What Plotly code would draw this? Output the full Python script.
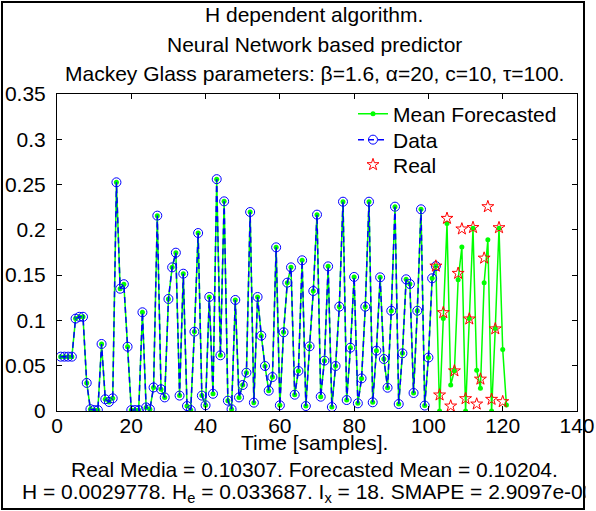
import plotly.graph_objects as go

# ---- data ----
data_t = list(range(1, 103))
data_v = [0.060, 0.060, 0.060, 0.060, 0.102, 0.104, 0.104, 0.031, 0.002, 0.001,
          0.001, 0.074, 0.013, 0.010, 0.014, 0.2525, 0.135, 0.140, 0.071, 0.001,
          0.001, 0.001, 0.109, 0.004, 0.002, 0.026, 0.2157, 0.024, 0.015, 0.1237,
          0.1586, 0.1748, 0.017, 0.1516, 0.0055, 0.001, 0.0876, 0.1965, 0.017, 0.0063,
          0.1259, 0.019, 0.256, 0.0615, 0.2315, 0.0114, 0.002, 0.1226, 0.015, 0.0287,
          0.0423, 0.2197, 0.0092, 0.1259, 0.0832, 0.0497, 0.0224, 0.0375, 0.1807, 0.0063,
          0.0869, 0.1417, 0.1586, 0.018, 0.0442, 0.1664, 0.0055, 0.0714, 0.1325, 0.2168,
          0.0158, 0.0556, 0.1597, 0.0044, 0.0497, 0.1152, 0.2311, 0.0121, 0.0699, 0.148,
          0.0085, 0.036, 0.1152, 0.2311, 0.0096, 0.0666, 0.1476, 0.0574, 0.0257, 0.1107,
          0.2256, 0.0077, 0.0637, 0.1454, 0.1402, 0.0199, 0.1107, 0.2227, 0.006, 0.059,
          0.1465, 0.160]

fc_t = list(range(103, 122))
fc_v = [0.0, 0.102, 0.207, 0.0287, 0.0445, 0.145, 0.181, 0.0, 0.102, 0.2017,
        0.045, 0.025, 0.1417, 0.189, 0.0, 0.091, 0.2017, 0.068, 0.0066]

real_t = list(range(102, 121))
real_v = [0.160, 0.0177, 0.1086, 0.2127, 0.0055, 0.0443, 0.152, 0.201, 0.0136, 0.1016,
          0.2026, 0.0077, 0.0352, 0.1688, 0.2256, 0.0129, 0.0907, 0.2024, 0.0103]

x_ticks = [0, 20, 40, 60, 80, 100, 120, 140]
y_ticks = [0, 0.05, 0.1, 0.15, 0.2, 0.25, 0.3, 0.35]
y_tick_labels = ["0", "0.05", "0.1", "0.15", "0.2", "0.25", "0.3", "0.35"]

title_lines = ["H dependent algorithm.",
               "Neural Network based predictor",
               "Mackey Glass parameters: \u03b2=1.6, \u03b1=20, c=10, \u03c4=100."]
xlabel = "Time [samples]."
info_1 = "Real Media = 0.10307. Forecasted Mean = 0.10204."
info_2 = "H = 0.0029778. H<sub>e</sub> = 0.033687. I<sub>x</sub> = 18. SMAPE = 2.9097e-005"

# ---- figure ----
W, H = 596, 511
L, R, T, B = 57, 19, 94, 100
PW, PH = W - L - R, H - T - B
FONT = "Liberation Sans, Arial, sans-serif"
FS = 21


def px_x(px):
    return (px - L) / PW


def px_y(py):
    return (H - B - py) / PH


fig = go.Figure()
fig.add_trace(go.Scatter(
    x=data_t + fc_t, y=data_v + fc_v, name="Mean Forecasted", mode="lines+markers",
    line=dict(color="#00ff00", width=1.5),
    marker=dict(symbol="circle", size=5, color="#00ff00"), legend="legend"))
fig.add_trace(go.Scatter(
    x=data_t, y=data_v, name="Data", mode="lines+markers",
    line=dict(color="#0000ff", width=1.5, dash="6px,4px"),
    marker=dict(symbol="circle-open", size=9, color="#0000ff", line=dict(width=1)),
    legend="legend2"))
fig.add_trace(go.Scatter(
    x=real_t, y=real_v, name="Real", mode="markers",
    marker=dict(symbol="star-open", size=9, color="#ff0000", line=dict(width=1)),
    legend="legend3"))

axis_common = dict(showline=True, linecolor="black", linewidth=1, mirror="ticks",
                   ticks="inside", ticklen=5, tickcolor="black", showgrid=False,
                   zeroline=False, automargin=False,
                   tickfont=dict(family=FONT, size=FS, color="black"))
fig.update_xaxes(range=[0, 140], tickvals=x_ticks, ticklabelstandoff=-4, **axis_common)
fig.update_yaxes(range=[0, 0.35], tickvals=y_ticks, ticktext=y_tick_labels,
                 ticklabelstandoff=6, **axis_common)

annots = []
for txt, py in zip(title_lines, [14, 44, 74]):
    annots.append(dict(text=txt, x=px_x(314), y=px_y(py), xref="paper", yref="paper",
                       xanchor="center", yanchor="middle", showarrow=False,
                       font=dict(family=FONT, size=FS, color="black")))
for txt, py in zip([xlabel, info_1, info_2], [442, 469, 493]):
    annots.append(dict(text=txt, x=px_x(314), y=px_y(py), xref="paper", yref="paper",
                       xanchor="center", yanchor="middle", showarrow=False,
                       font=dict(family=FONT, size=FS, color="black")))
# cover text beyond the frame on the right (figure is clipped in the reference)
annots.append(dict(text=" ", x=px_x(585), y=px_y(493), xref="paper", yref="paper",
                   xanchor="left", yanchor="middle", showarrow=False, width=14,
                   height=40, bgcolor="white", font=dict(size=10)))


def leg(py):
    return dict(x=px_x(353), y=px_y(py), xanchor="left", yanchor="middle",
                bgcolor="rgba(0,0,0,0)", borderwidth=0,
                font=dict(family=FONT, size=FS, color="black"))


fig.update_layout(
    width=W, height=H, autosize=False,
    margin=dict(l=L, r=R, t=T, b=B, pad=0),
    paper_bgcolor="white", plot_bgcolor="white",
    font=dict(family=FONT, size=FS, color="black"),
    showlegend=True,
    legend=leg(114), legend2=leg(140), legend3=leg(165),
    annotations=annots,
    shapes=[dict(type="rect", xref="paper", yref="paper",
                 x0=px_x(2), x1=px_x(584), y0=px_y(509), y1=px_y(2),
                 line=dict(color="black", width=2), fillcolor="rgba(0,0,0,0)",
                 layer="above")],
)

fig.write_html("out.html", config={"displayModeBar": False},
               post_script="document.body.style.margin='0';document.body.style.padding='0';")
